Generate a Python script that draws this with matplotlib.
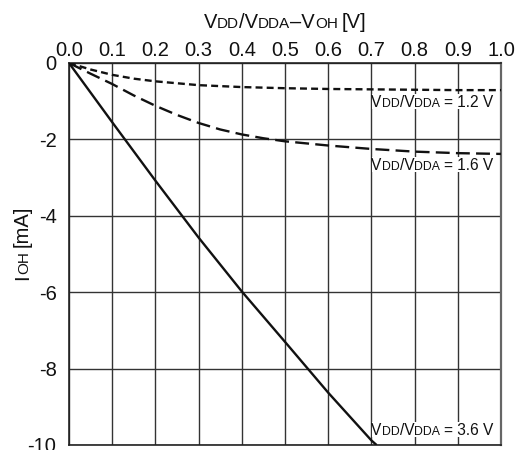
import matplotlib
matplotlib.use("Agg")
import matplotlib.pyplot as plt
from matplotlib.patches import Rectangle
from matplotlib.transforms import offset_copy, IdentityTransform, Bbox

plt.rcParams['font.family'] = ['Liberation Sans', 'DejaVu Sans']
plt.rcParams['lines.scale_dashes'] = False

# 数据：V_DD/V_DDA - V_OH [V] 与 I_OH [mA]
v36_x = [0.0, 0.1, 0.2, 0.3, 0.4, 0.5, 0.6, 0.7, 0.712]
v36_y = [0.0, -1.55, -3.08, -4.57, -5.98, -7.30, -8.63, -9.88, -10.0]

v16_x = [0.0, 0.05, 0.1, 0.15, 0.2, 0.25, 0.3, 0.35, 0.4, 0.45, 0.5, 0.6, 0.7, 0.8, 0.9, 1.0]
v16_y = [0.0, -0.28, -0.55, -0.85, -1.12, -1.36, -1.57, -1.74, -1.87, -1.97, -2.05,
         -2.16, -2.25, -2.32, -2.36, -2.38]

v12_x = [0.0, 0.05, 0.1, 0.15, 0.2, 0.3, 0.4, 0.5, 0.6, 0.7, 0.8, 0.9, 1.0]
v12_y = [0.0, -0.17, -0.31, -0.41, -0.48, -0.58, -0.63, -0.66, -0.68, -0.69, -0.70, -0.71, -0.71]

x_ticks = [0.0, 0.1, 0.2, 0.3, 0.4, 0.5, 0.6, 0.7, 0.8, 0.9, 1.0]
y_ticks = [0, -2, -4, -6, -8, -10]
y_ticklabels = ['0', '-2', '-4', '-6', '-8', '-10']

BIG, SMALL = 14.5, 11
LBIG, LSMALL = 11.2, 8.8

fig = plt.figure(figsize=(5.15, 4.5), dpi=100)
ax = fig.add_axes([69 / 515, 1 - 445 / 450, 432 / 515, 382 / 450])
renderer = fig.canvas.get_renderer()


def rich_text(x, y, pieces, trans, ha='left', rot=0):
    """按小型大写字母的样子拼接文字片段 (text, size, gap_px)"""
    texts, widths = [], []
    for s, fs, gap in pieces:
        t = fig.text(x, y, s, fontsize=fs, transform=trans, va='baseline', ha='left',
                     rotation=rot, rotation_mode='anchor', color='#111111')
        bb = t.get_window_extent(renderer)
        texts.append(t)
        widths.append((bb.width if rot == 0 else bb.height) + gap)
    total = sum(widths)
    cum = {'left': 0, 'center': -total / 2, 'right': -total}[ha]
    for t, w, (s, fs, gap) in zip(texts, widths, pieces):
        cum += gap
        if rot == 0:
            t.set_transform(offset_copy(trans, fig=fig, x=cum, y=0, units='dots'))
        else:
            t.set_transform(offset_copy(trans, fig=fig, x=0, y=cum, units='dots'))
        cum += w - gap
    return texts


ax.plot(v36_x, v36_y, color='#111111', lw=1.7, solid_capstyle='butt', zorder=3)
ax.plot(v16_x, v16_y, color='#111111', lw=1.7, dashes=(10, 4.5), zorder=3)
ax.plot(v12_x, v12_y, color='#111111', lw=1.7, dashes=(5, 3), zorder=3)

ax.set_xlim(0, 1.0)
ax.set_ylim(-10, 0)
ax.set_xticks(x_ticks)
ax.set_xticklabels([f'{v:.1f}' for v in x_ticks])
ax.set_yticks(y_ticks)
ax.set_yticklabels(y_ticklabels)
ax.xaxis.tick_top()
ax.tick_params(axis='x', length=0, pad=2, labelsize=BIG, colors='#111111')
ax.tick_params(axis='y', length=0, pad=9, labelsize=BIG, colors='#111111')
ax.grid(True, color='#333333', lw=1.0)
ax.set_axisbelow(True)
for side in ['left', 'bottom', 'top']:
    ax.spines[side].set_color('#222222')
    ax.spines[side].set_linewidth(1.2)
ax.spines['right'].set_color('#666666')
ax.spines['right'].set_linewidth(1.6)

# 曲线标签（白底遮住网格线）
for yv, val in [(-1.16, '1.2'), (-2.80, '1.6'), (-9.74, '3.6')]:
    ts = rich_text(0.70, yv, [('V', LBIG, 0), ('DD', LSMALL, 0), ('/V', LBIG, 0),
                              ('DDA', LSMALL, 0), (f'= {val} V', LBIG, 4)], ax.transData)
    bb = Bbox.union([t.get_window_extent(renderer) for t in ts])
    ax.add_patch(Rectangle((bb.x0 + 1, bb.y0 + 1), bb.width - 2, bb.height,
                           transform=IdentityTransform(), facecolor='white',
                           edgecolor='none', zorder=1))

# 顶部坐标轴标题
rich_text(285 / 515, 1 - 28 / 450,
          [('V', BIG, 0), ('DD', SMALL, 0), ('/V', BIG, 0), ('DDA', SMALL, 0),
           ('–V', BIG, 0), ('OH', SMALL, 0), ('[V]', BIG, 4)],
          fig.transFigure, ha='center')

# 纵轴标题
rich_text(28 / 515, 1 - 243 / 450,
          [('I', BIG, 0), ('OH', SMALL, 0), ('[mA]', BIG, 4)],
          fig.transFigure, ha='center', rot=90)

fig.savefig('out.png', dpi=100)
